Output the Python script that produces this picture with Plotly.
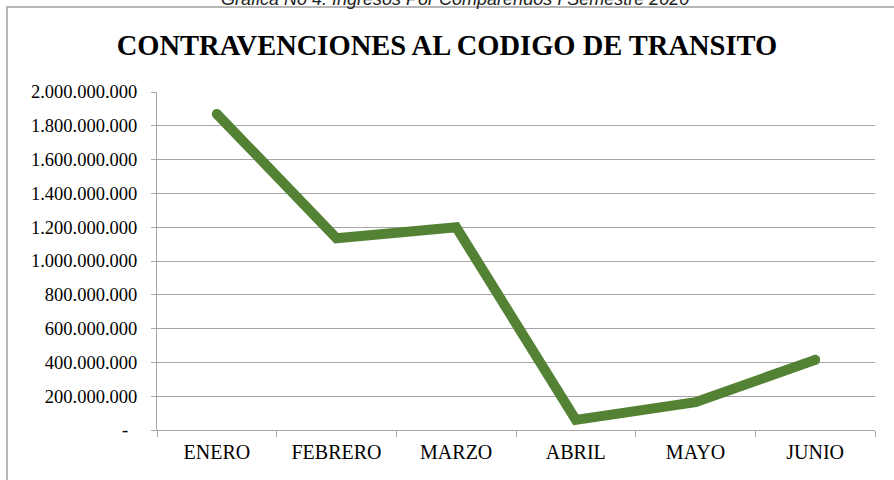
import plotly.graph_objects as go

months = ["ENERO", "FEBRERO", "MARZO", "ABRIL", "MAYO", "JUNIO"]
values = [1870000000, 1135000000, 1200000000, 60000000, 165000000, 415000000]
ytick_vals = [0, 200000000, 400000000, 600000000, 800000000, 1000000000,
              1200000000, 1400000000, 1600000000, 1800000000, 2000000000]
ytick_text = ["-\u00a0\u00a0", "200.000.000", "400.000.000", "600.000.000", "800.000.000",
              "1.000.000.000", "1.200.000.000", "1.400.000.000", "1.600.000.000",
              "1.800.000.000", "2.000.000.000"]
title_text = "CONTRAVENCIONES AL CODIGO DE TRANSITO"
caption_text = "Gráfica No 4. Ingresos Por Comparendos I Semestre 2020"

GREEN = "#548235"
GRID = "#a6a6a6"
SERIF = "Liberation Serif, Times New Roman, serif"

fig = go.Figure()
fig.add_trace(go.Scatter(
    x=months, y=values, mode="lines",
    line=dict(color=GREEN, width=10),
    hoverinfo="skip", showlegend=False,
))
# round end caps
fig.add_trace(go.Scatter(
    x=[months[0], months[-1]], y=[values[0], values[-1]], mode="markers",
    marker=dict(color=GREEN, size=10, line=dict(width=0)),
    hoverinfo="skip", showlegend=False,
))

fig.update_layout(
    width=894, height=480,
    margin=dict(l=157, r=19, t=92, b=50),
    paper_bgcolor="white", plot_bgcolor="white",
    title=dict(text="<b>" + title_text + "</b>", x=0.5, xref="container", xanchor="center",
               y=1 - 45 / 480, yref="container", yanchor="middle",
               font=dict(family=SERIF, size=28.5, color="black")),
    xaxis=dict(
        type="category", range=[-0.5, 5.5], tickson="boundaries",
        showgrid=False, showline=True, linecolor=GRID, linewidth=1,
        ticks="outside", ticklen=6, tickcolor=GRID, tickwidth=1,
        tickfont=dict(family=SERIF, size=20, color="black"),
        ticklabelstandoff=4,
    ),
    yaxis=dict(
        range=[0, 2000000000], tickvals=ytick_vals, ticktext=ytick_text,
        showgrid=True, gridcolor=GRID, gridwidth=1,
        showline=True, linecolor=GRID, linewidth=1,
        ticks="outside", ticklen=5, tickcolor=GRID, tickwidth=1,
        tickfont=dict(family=SERIF, size=18.5, color="black"),
        ticklabelstandoff=10, zeroline=False,
    ),
    shapes=[dict(type="rect", xref="paper", yref="paper",
                 x0=(7 - 157) / 718, x1=(905 - 157) / 718,
                 y0=1 - (495 - 92) / 338, y1=1 + (92 - 7) / 338,
                 line=dict(color="#a0a0a0", width=1.5), fillcolor="rgba(0,0,0,0)",
                 layer="below")],
    annotations=[dict(text="<i>" + caption_text + "</i>", xref="paper", yref="paper",
                      x=(455 - 157) / 718, y=1 + (92 + 1) / 338, xanchor="center",
                      yanchor="middle", showarrow=False,
                      font=dict(family="Liberation Sans, Arial, sans-serif", size=18, color="#222"))],
)

fig.write_html("out.html", config={"displayModeBar": False},
               post_script="document.body.style.margin='0';")
